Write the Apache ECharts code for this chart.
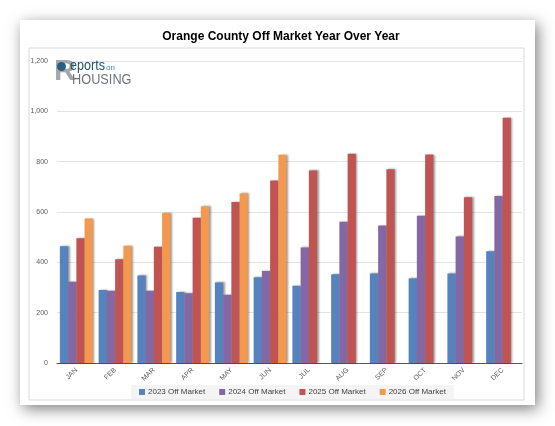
<!DOCTYPE html>
<html>
<head>
<meta charset="utf-8">
<script src="https://cdn.jsdelivr.net/npm/echarts@6/dist/echarts.min.js"></script>
<style>
  html, body { margin: 0; padding: 0; background: #fff; }
  #chart { width: 555px; height: 426px; }
</style>
</head>
<body>
<div id="chart"></div>
<script>
// 月份与各年份下架数量
const months = ['JAN', 'FEB', 'MAR', 'APR', 'MAY', 'JUN', 'JUL', 'AUG', 'SEP', 'OCT', 'NOV', 'DEC'];
const offMarket2023 = [464, 290, 348, 282, 320, 341, 307, 353, 356, 336, 356, 444];
const offMarket2024 = [323, 287, 287, 277, 271, 366, 459, 561, 546, 585, 503, 664];
const offMarket2025 = [496, 412, 462, 577, 640, 725, 765, 831, 770, 828, 659, 975];
const offMarket2026 = [574, 466, 596, 622, 674, 827, null, null, null, null, null, null];
const seriesNames = ['2023 Off Market', '2024 Off Market', '2025 Off Market', '2026 Off Market'];
const colors = ['#5682BE', '#8468A4', '#C05452', '#F2994F'];

const chart = echarts.init(document.getElementById('chart'));

function barSeries(name, data, color) {
  return {
    name: name,
    type: 'bar',
    data: data,
    barGap: '0%',
    barCategoryGap: '15%',
    itemStyle: {
      color: color,
      shadowColor: 'rgba(0,0,0,0.4)',
      shadowBlur: 2,
      shadowOffsetX: 1.5,
      shadowOffsetY: 0
    }
  };
}

const option = {
  animation: false,
  textStyle: { fontFamily: 'Liberation Sans, Arial, sans-serif' },
  title: {
    text: 'Orange County Off Market Year Over Year',
    left: 276,
    textAlign: 'center',
    top: 26,
    textStyle: { fontSize: 12, fontWeight: 'bold', color: '#000' }
  },
  graphic: [
    {
      type: 'rect', z: -10,
      shape: { x: 20, y: 20, width: 515, height: 385 },
      style: { fill: '#fff', shadowColor: 'rgba(0,0,0,0.5)', shadowBlur: 14, shadowOffsetX: 3, shadowOffsetY: 4 }
    },
    {
      type: 'rect', z: -9,
      shape: { x: 29, y: 48, width: 495, height: 352 },
      style: { fill: '#fff', stroke: '#d9d9d9', lineWidth: 1 }
    },
    // 标志（近似）
    {
      type: 'text', left: 54, top: 57, z: 10,
      style: { text: 'R', fontSize: 30, fontWeight: 'bold', fill: '#a3a8ad' }
    },
    {
      type: 'circle', z: 11,
      shape: { cx: 61.5, cy: 66.5, r: 4.5 },
      style: { fill: '#2a5f82' }
    },
    {
      type: 'text', x: 70, y: 58, z: 11, scaleX: 0.84,
      style: { text: 'eports', fontSize: 15, fill: '#24506e', textVerticalAlign: 'top' }
    },
    {
      type: 'text', x: 106, y: 64, z: 11,
      style: { text: 'on', fontSize: 8, fill: '#3a8ec9', textVerticalAlign: 'top' }
    },
    {
      type: 'text', x: 72, y: 72, z: 11, scaleX: 0.85,
      style: { text: 'HOUSING', fontSize: 15, fill: '#707478', textVerticalAlign: 'top' }
    }
  ],
  legend: {
    data: seriesNames,
    left: 131,
    top: 385,
    itemWidth: 6,
    itemHeight: 6,
    itemGap: 14,
    padding: [3, 8],
    backgroundColor: '#f4f4f4',
    icon: 'rect',
    textStyle: { fontSize: 8, color: '#404040', padding: [0, 0, 0, -2] }
  },
  grid: { left: 57, right: 33, top: 61, bottom: 63, containLabel: false },
  xAxis: {
    type: 'category',
    data: months,
    axisLine: { lineStyle: { color: '#595959', width: 1.2 } },
    axisTick: { show: false },
    axisLabel: { rotate: 45, interval: 0, fontSize: 7, color: '#595959', margin: 6 }
  },
  yAxis: {
    type: 'value',
    min: 0,
    max: 1200,
    interval: 200,
    axisLine: { show: false },
    axisTick: { show: false },
    splitLine: { lineStyle: { color: '#e3e3e3' } },
    axisLabel: {
      fontSize: 7,
      color: '#595959',
      margin: 9,
      formatter: function (v) { return v.toLocaleString('en-US'); }
    }
  },
  series: [
    barSeries(seriesNames[0], offMarket2023, colors[0]),
    barSeries(seriesNames[1], offMarket2024, colors[1]),
    barSeries(seriesNames[2], offMarket2025, colors[2]),
    barSeries(seriesNames[3], offMarket2026, colors[3])
  ]
};

chart.setOption(option);
</script>
</body>
</html>
